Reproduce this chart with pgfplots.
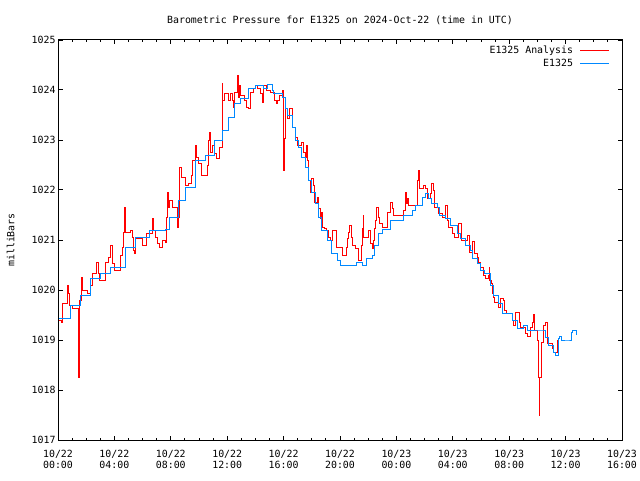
\documentclass[border=0pt]{standalone}
\usepackage{fontspec}
\setmainfont{DejaVu Sans Mono}
\usepackage{pgfplots}
\pgfplotsset{compat=1.18}
\definecolor{anared}{RGB}{255,0,0}
\definecolor{obsblue}{RGB}{0,136,255}
\newcommand{\gfont}{\fontsize{9.9}{12.5}\selectfont}

\begin{document}
\gfont
\begin{tikzpicture}[x=1pt,y=1pt]
\path[use as bounding box] (0,0) rectangle (640,480);
\begin{axis}[
    at={(58pt,40pt)}, anchor=south west,
    scale only axis, width=564pt, height=400pt,
    xmin=0, xmax=40, ymin=1017, ymax=1025,
    axis line style={line width=1pt},
    every tick/.style={black, line width=1pt},
    major tick length=4.5pt, minor tick length=2.5pt,
    xtick={0,4,...,40},
    minor x tick num=3,
    ytick={1017,1018,...,1025},
    xticklabels={10/22\\[-1.5pt]00:00,10/22\\[-1.5pt]04:00,10/22\\[-1.5pt]08:00,10/22\\[-1.5pt]12:00,10/22\\[-1.5pt]16:00,10/22\\[-1.5pt]20:00,10/23\\[-1.5pt]00:00,10/23\\[-1.5pt]04:00,10/23\\[-1.5pt]08:00,10/23\\[-1.5pt]12:00,10/23\\[-1.5pt]16:00},
    xticklabel style={align=center, font=\gfont, yshift=-6.5pt},
    yticklabel style={font=\gfont, xshift=1pt},
    /pgf/number format/assume math mode=true,
    /pgf/number format/1000 sep={},
    title={Barometric Pressure for E1325 on 2024-Oct-22 (time in UTC)},
    every axis title shift=0pt,
    title style={at={(axis description cs:0.5,1.05)}, anchor=center, yshift=0pt, font=\gfont},
    ylabel={milliBars},
    ylabel style={at={(axis description cs:-0.084,0.5)}, anchor=center, font=\gfont},
    legend plot pos=right,
    legend cell align=right,
    legend style={at={(axis description cs:0.979,0.99)}, anchor=north east,
      draw=none, fill=none, inner sep=0pt, row sep=0pt, column sep=5pt,
      font=\gfont},
    legend image code/.code={\draw[#1] (0pt,0pt) -- (29pt,0pt);},
]
\addplot[const plot, anared, line width=0.95pt] coordinates {
(0.07,1019.40) (0.28,1019.36) (0.35,1019.74) (0.64,1020.10) (0.71,1019.94) (0.78,1019.70)
(1.06,1019.64) (1.42,1018.94) (1.44,1018.26) (1.49,1019.80) (1.63,1020.26) (1.77,1020.00)
(2.06,1019.94) (2.27,1020.10) (2.41,1020.34) (2.70,1020.56) (2.84,1020.34) (2.91,1020.20)
(3.40,1020.56) (3.55,1020.66) (3.69,1020.90) (3.83,1020.54) (4.04,1020.40) (4.40,1020.70)
(4.54,1020.86) (4.61,1021.16) (4.68,1021.66) (4.82,1021.16) (5.11,1021.20) (5.25,1021.06)
(5.32,1020.80) (5.39,1020.74) (5.53,1021.04) (5.96,1020.90) (6.31,1021.14) (6.67,1021.44)
(6.74,1021.20) (6.88,1021.06) (7.09,1020.94) (7.23,1020.86) (7.38,1021.00) (7.59,1020.96)
(7.66,1021.46) (7.73,1021.96) (7.80,1021.66) (7.94,1021.80) (8.09,1021.66) (8.44,1021.26)
(8.51,1021.46) (8.58,1021.94) (8.65,1022.46) (8.79,1022.26) (9.01,1022.10) (9.22,1022.14)
(9.50,1022.30) (9.57,1022.60) (9.72,1022.90) (9.79,1022.66) (9.93,1022.54) (10.21,1022.30)
(10.57,1022.50) (10.64,1023.00) (10.71,1023.16) (10.78,1022.76) (10.99,1022.90) (11.13,1022.74)
(11.21,1022.64) (11.42,1022.86) (11.63,1023.10) (11.67,1024.14) (11.70,1023.80) (11.84,1023.94)
(12.06,1023.80) (12.20,1023.94) (12.34,1023.80) (12.41,1023.66) (12.55,1023.96) (12.70,1024.30)
(12.77,1023.86) (12.84,1024.10) (12.91,1023.90) (13.26,1023.80) (13.40,1023.66) (13.48,1023.64)
(13.62,1023.96) (13.83,1024.04) (13.97,1024.10) (14.18,1024.04) (14.33,1023.94) (14.47,1023.76)
(14.54,1024.10) (14.82,1024.00) (15.04,1023.96) (15.32,1023.80) (15.46,1023.74) (15.60,1023.80)
(15.74,1023.90) (15.89,1024.00) (15.96,1023.20) (15.98,1022.40) (16.03,1023.04) (16.10,1023.64)
(16.31,1023.44) (16.45,1023.64) (16.60,1023.26) (16.81,1023.06) (16.95,1022.90) (17.30,1022.96)
(17.38,1022.76) (17.52,1022.66) (17.59,1022.90) (17.66,1022.60) (17.73,1022.20) (17.94,1021.96)
(18.01,1022.24) (18.09,1022.10) (18.16,1021.76) (18.37,1021.86) (18.44,1021.64) (18.58,1021.44)
(18.72,1021.56) (18.79,1021.26) (18.87,1021.24) (19.01,1021.20) (19.15,1021.06) (19.29,1021.00)
(19.50,1021.20) (19.72,1020.86) (20.21,1020.70) (20.43,1020.86) (20.50,1021.04) (20.57,1021.16)
(20.64,1021.30) (20.78,1021.06) (20.92,1020.90) (21.13,1020.84) (21.28,1020.60) (21.49,1020.90)
(21.56,1021.24) (21.63,1021.50) (21.70,1021.06) (21.99,1021.20) (22.13,1020.94) (22.27,1020.84)
(22.34,1021.00) (22.41,1021.24) (22.55,1021.40) (22.62,1021.66) (22.70,1021.46) (22.77,1021.34)
(22.98,1021.26) (23.40,1021.56) (23.55,1021.76) (23.69,1021.64) (23.76,1021.50) (24.47,1021.60)
(24.61,1021.96) (24.68,1021.74) (24.75,1021.84) (24.89,1021.70) (25.46,1022.00) (25.53,1022.20)
(25.60,1022.40) (25.67,1022.04) (25.89,1022.10) (26.03,1022.04) (26.17,1021.84) (26.45,1021.94)
(26.52,1022.14) (26.60,1022.00) (26.67,1021.66) (26.95,1021.54) (27.30,1021.46) (27.45,1021.70)
(27.59,1021.40) (27.66,1021.26) (28.01,1021.14) (28.09,1021.06) (28.37,1021.34) (28.65,1021.00)
(29.01,1021.10) (29.15,1020.76) (29.36,1020.98) (29.57,1020.74) (29.72,1020.66) (29.79,1020.56)
(29.93,1020.46) (30.21,1020.30) (30.35,1020.24) (30.50,1020.30) (30.57,1020.46) (30.60,1020.20)
(30.71,1020.14) (30.78,1019.94) (30.85,1019.86) (30.99,1019.76) (31.21,1019.66) (31.35,1019.84)
(31.56,1019.80) (31.70,1019.60) (31.84,1019.54) (32.20,1019.40) (32.27,1019.30) (32.48,1019.56)
(32.70,1019.36) (32.77,1019.26) (33.12,1019.14) (33.33,1019.08) (33.48,1019.26) (33.62,1019.36)
(33.69,1019.52) (33.76,1019.20) (34.04,1019.00) (34.11,1018.26) (34.13,1017.50) (34.16,1018.26)
(34.26,1018.96) (34.40,1019.30) (34.54,1019.36) (34.68,1018.94) (35.04,1018.84) (35.11,1018.76)
(35.39,1019.00) (35.50,1019.00)
};
\addlegendentry{E1325 Analysis}
\addplot[const plot, obsblue, line width=0.95pt] coordinates {
(0.07,1019.44) (0.85,1019.70) (1.56,1019.90) (2.27,1020.24) (2.98,1020.34) (3.69,1020.46)
(4.75,1020.86) (5.46,1021.06) (6.52,1021.20) (7.59,1021.22) (7.94,1021.46) (8.51,1021.80)
(9.01,1022.06) (9.72,1022.60) (10.43,1022.70) (11.13,1023.00) (11.63,1023.20) (12.06,1023.46)
(12.55,1023.74) (12.91,1023.84) (13.48,1024.04) (13.97,1024.10) (14.60,1024.04) (14.89,1024.12)
(15.18,1024.00) (15.25,1023.94) (15.89,1023.86) (16.10,1023.64) (16.31,1023.50) (16.60,1023.26)
(16.81,1023.00) (17.02,1022.86) (17.30,1022.66) (17.52,1022.46) (17.73,1022.20) (18.01,1021.96)
(18.23,1021.74) (18.44,1021.46) (18.72,1021.20) (19.08,1021.00) (19.43,1020.74) (19.79,1020.60)
(20.00,1020.50) (21.20,1020.56) (21.56,1020.50) (21.91,1020.64) (22.27,1020.70) (22.48,1020.90)
(22.70,1021.14) (22.98,1021.22) (23.55,1021.40) (24.47,1021.50) (25.11,1021.60) (25.32,1021.70)
(25.82,1021.86) (26.03,1021.93) (26.24,1021.84) (26.52,1021.74) (26.88,1021.66) (27.09,1021.50)
(27.45,1021.44) (27.80,1021.30) (28.30,1021.14) (28.51,1021.04) (28.87,1020.90) (29.22,1020.80)
(29.43,1020.64) (29.72,1020.54) (29.93,1020.40) (30.28,1020.34) (30.64,1020.10) (30.85,1019.90)
(31.21,1019.74) (31.49,1019.54) (32.20,1019.40) (32.62,1019.24) (32.98,1019.30) (33.33,1019.20)
(34.40,1019.20) (34.54,1019.06) (34.75,1018.90) (35.11,1018.76) (35.25,1018.70) (35.46,1019.04)
(35.60,1019.08) (35.74,1019.00) (36.17,1019.00) (36.45,1019.16) (36.52,1019.20) (36.74,1019.10)
};
\addlegendentry{E1325}
\end{axis}
\end{tikzpicture}
\end{document}
